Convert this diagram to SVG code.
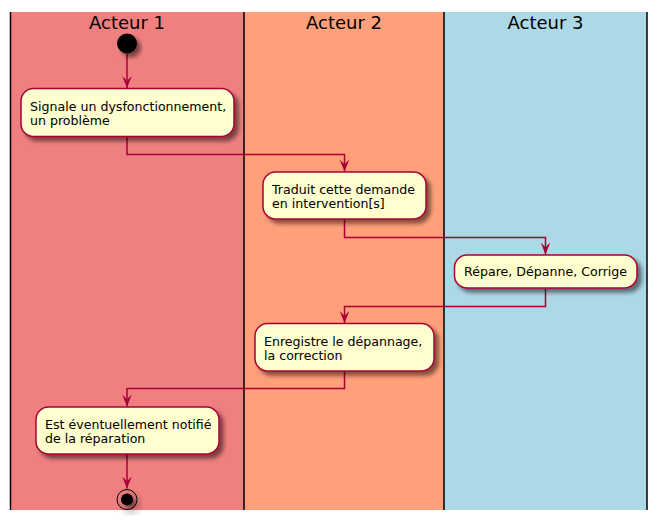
<svg xmlns="http://www.w3.org/2000/svg" width="658" height="520" viewBox="0 0 658 520">
<defs>
<filter id="sh" x="-20%" y="-20%" width="150%" height="150%">
<feGaussianBlur in="SourceAlpha" stdDeviation="2" result="b"/>
<feColorMatrix in="b" type="matrix" values="0 0 0 0 0  0 0 0 0 0  0 0 0 0 0  0 0 0 0.5 0" result="c"/>
<feOffset in="c" dx="4" dy="4" result="o"/>
<feMerge><feMergeNode in="o"/><feMergeNode in="SourceGraphic"/></feMerge>
</filter>
<marker id="ah" markerWidth="12" markerHeight="12" viewBox="0 0 10 8" refX="10" refY="4" orient="auto" markerUnits="userSpaceOnUse">
<polygon points="0,0 10,4 0,8 4,4" fill="#A80036"/>
</marker>
</defs>
<style>
.lt{font-family:"DejaVu Sans","Liberation Sans",sans-serif;font-size:18px;fill:#000;text-anchor:middle}
.tx{font-family:"DejaVu Sans","Liberation Sans",sans-serif;font-size:12.6px;fill:#000}
.box{fill:#FEFECE;stroke:#A80036;stroke-width:1.5;filter:url(#sh)}
.ln{fill:none;stroke:#A80036;stroke-width:1.5}
.lane{stroke:#000;stroke-width:1.5}
</style>
<g id="lanes">
<rect x="11" y="12" width="233" height="498" fill="#F08080"/>
<rect x="244" y="12" width="200" height="498" fill="#FFA07A"/>
<rect x="444" y="12" width="203" height="498" fill="#ADD8E6"/>
<line class="lane" x1="10.5" y1="12" x2="10.5" y2="510"/>
<line class="lane" x1="244" y1="12" x2="244" y2="510"/>
<line class="lane" x1="444" y1="12" x2="444" y2="510"/>
<line class="lane" x1="647" y1="12" x2="647" y2="510"/>
<text class="lt" x="127" y="29">Acteur 1</text>
<text class="lt" x="344" y="29">Acteur 2</text>
<text class="lt" x="545.5" y="29">Acteur 3</text>
</g>
<g id="connectors">
<path class="ln" d="M127,54 V88" marker-end="url(#ah)"/>
<path class="ln" d="M127,136.5 V154.5 H344.5 V171.5" marker-end="url(#ah)"/>
<path class="ln" d="M344.5,219 V237.5 H545.5 V254.5" marker-end="url(#ah)"/>
<path class="ln" d="M545.5,288 V306.5 H344.5 V323" marker-end="url(#ah)"/>
<path class="ln" d="M344.5,371 V388.5 H127 V406.5" marker-end="url(#ah)"/>
<path class="ln" d="M127,454 V488.5" marker-end="url(#ah)"/>
</g>
<g id="start">
<circle cx="127" cy="43.5" r="10" fill="#000" filter="url(#sh)"/>
</g>
<g id="n1">
<rect class="box" x="21" y="88.5" width="213" height="48" rx="12.5"/>
<text class="tx" x="30" y="111">Signale un dysfonctionnement,</text>
<text class="tx" x="30" y="125">un problème</text>
</g>
<g id="n2">
<rect class="box" x="263" y="172" width="163" height="47" rx="12.5"/>
<text class="tx" x="272" y="194">Traduit cette demande</text>
<text class="tx" x="272" y="208">en intervention[s]</text>
</g>
<g id="n3">
<rect class="box" x="454.5" y="255" width="182.5" height="33" rx="12.5"/>
<text class="tx" x="464" y="276">Répare, Dépanne, Corrige</text>
</g>
<g id="n4">
<rect class="box" x="255" y="323.5" width="179" height="47.5" rx="12.5"/>
<text class="tx" x="264" y="346">Enregistre le dépannage,</text>
<text class="tx" x="264" y="360">la correction</text>
</g>
<g id="n5">
<rect class="box" x="36" y="407" width="183" height="47" rx="12.5"/>
<text class="tx" x="45" y="429">Est éventuellement notifié</text>
<text class="tx" x="45" y="443">de la réparation</text>
</g>
<g id="stop" filter="url(#sh)">
<circle cx="127" cy="499.5" r="10" fill="none" stroke="#000" stroke-width="1"/>
<circle cx="127" cy="499.5" r="6" fill="#000"/>
</g>
</svg>
